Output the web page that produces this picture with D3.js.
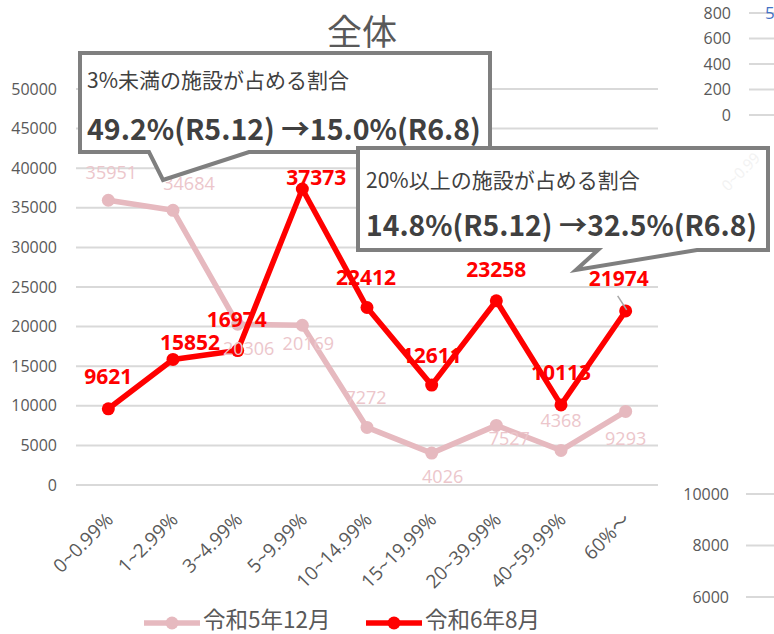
<!DOCTYPE html>
<html><head><meta charset="utf-8">
<script src="https://cdn.jsdelivr.net/npm/d3@7"></script>
<style>body{margin:0;background:#fff}svg{display:block}</style>
</head><body>
<svg id="c" width="774" height="634"></svg>
<script>
const categories = ["0~0.99%","1~2.99%","3~4.99%","5~9.99%","10~14.99%","15~19.99%","20~39.99%","40~59.99%","60%～"];
const seriesNames = ["令和5年12月","令和6年8月"];
const valuesR5_12 = [35951,34684,20306,20169,7272,4026,7527,4368,9293];
const valuesR6_8 = [9621,15852,16974,37373,22412,12611,23258,10113,21974];
const yTicks = [0,5000,10000,15000,20000,25000,30000,35000,40000,45000,50000];
const title = "全体";
const callout1Lines = ["3%未満の施設が占める割合","49.2%(R5.12) →15.0%(R6.8)"];
const callout2Lines = ["20%以上の施設が占める割合","14.8%(R5.12) →32.5%(R6.8)"];
const sideTicksTop = [0,200,400,600,800];
const sideTicksBottom = [6000,8000,10000];

// label offsets (label centre relative to its point) — layout only
const labelOffR5 = [[3,-28],[16,-27],[11,24],[6,18],[-1,-30],[11,23],[13,13],[0,-30],[0,27]];
const labelOffR6 = [[0,-32],[17,-17],[-1,-31],[14,-12],[-1,-30],[0,-30],[0,-31],[0,-32],[-7,-33]];

const svg = d3.select("#c");
const font = "'Noto Sans CJK JP','Noto Sans',sans-serif";
const numFont = "'Open Sans','Noto Sans CJK JP',sans-serif";
const x = d3.scaleBand().domain(categories).range([76,658]);
const y = d3.scaleLinear().domain([0,50000]).range([485,89]);
const cx = d => x(d) + x.bandwidth()/2;

// title
svg.append("text").attr("x",362).attr("y",45).attr("text-anchor","middle")
  .attr("font-family",font).attr("font-size",35).attr("fill","#595959").text(title);

// grid
svg.append("g").selectAll("line").data(yTicks).join("line")
  .attr("x1",76).attr("x2",658).attr("y1",d=>y(d)).attr("y2",d=>y(d))
  .attr("stroke","#d9d9d9").attr("stroke-width",2);

// y axis labels
const yAxis = svg.append("g").attr("transform","translate(64,0)")
  .call(d3.axisLeft(y).tickValues(yTicks).tickSize(0).tickPadding(7).tickFormat(d3.format("d")));
yAxis.select(".domain").remove();
yAxis.selectAll("text").attr("font-family",numFont).attr("font-size",16).attr("fill","#595959");

// x axis labels
const xAxis = svg.append("g").attr("transform","translate(0,485)")
  .call(d3.axisBottom(x).tickSize(0).tickPadding(0));
xAxis.select(".domain").remove();
xAxis.selectAll("text").attr("font-family",numFont).attr("font-size",19).attr("fill","#595959")
  .attr("text-anchor","end").attr("dy",0).attr("y",0)
  .attr("transform","translate(6,36) rotate(-45)");

// lines
const line = d3.line().x((d,i)=>cx(categories[i])).y(d=>y(d));
const colors = ["#e6b9bf","#ff0000"];
[valuesR5_12, valuesR6_8].forEach((vals,k)=>{
  svg.append("path").datum(vals).attr("d",line).attr("fill","none")
    .attr("stroke",colors[k]).attr("stroke-width",5.5).attr("stroke-linejoin","round");
  svg.append("g").selectAll("circle").data(vals).join("circle")
    .attr("cx",(d,i)=>cx(categories[i])).attr("cy",d=>y(d)).attr("r",6.5).attr("fill",colors[k]);
});

// small leader line near last red point
svg.append("line").attr("x1",cx(categories[8])-8).attr("y1",y(valuesR6_8[8])-15)
  .attr("x2",cx(categories[8])+1).attr("y2",y(valuesR6_8[8])-1)
  .attr("stroke","#a6a6a6").attr("stroke-width",1.5);

// labels
const s5 = 18, s6 = 21;
svg.append("g").selectAll("text").data(valuesR5_12).join("text")
  .attr("x",(d,i)=>cx(categories[i])+labelOffR5[i][0]).attr("y",(d,i)=>y(d)+labelOffR5[i][1]+0.36*s5)
  .attr("text-anchor","middle").attr("font-family",numFont).attr("font-size",s5)
  .attr("fill","#ecc6cb").text(d=>d);
svg.append("g").selectAll("text").data(valuesR6_8).join("text")
  .attr("x",(d,i)=>cx(categories[i])+labelOffR6[i][0]).attr("y",(d,i)=>y(d)+labelOffR6[i][1]+0.36*s6)
  .attr("text-anchor","middle").attr("font-family",numFont).attr("font-size",s6).attr("font-weight","bold")
  .attr("fill","#ff0000").text(d=>d);

// callouts
function callout(pts, lines, tx, ty1, ty2, s1, s2){
  svg.append("path").attr("d","M"+pts.map(p=>p.join(",")).join("L")+"Z")
    .attr("fill","#fff").attr("stroke","#7f7f7f").attr("stroke-width",4).attr("stroke-linejoin","miter");
  svg.append("text").attr("x",tx).attr("y",ty1).attr("font-family",font).attr("font-size",s1)
    .attr("fill","#404040").text(lines[0]);
  svg.append("text").attr("x",tx).attr("y",ty2).attr("font-family",font).attr("font-size",s2)
    .attr("font-weight","bold").attr("fill","#404040").text(lines[1]);
}
callout([[80,53],[490,53],[490,152],[249,152],[163,180],[149,152],[80,152]], callout1Lines, 87, 88, 140, 21, 28.5);
callout([[358,148],[768,148],[768,250],[697,250],[576,270],[598,250],[358,250]], callout2Lines, 366, 188, 236, 21, 28.3);

// side fragments (neighbouring charts)
const sideTop = d3.scaleLinear().domain([0,800]).range([115,13]);
const gT = svg.append("g");
gT.selectAll("text").data(sideTicksTop).join("text").attr("x",731).attr("y",d=>sideTop(d)+5.5)
  .attr("text-anchor","end").attr("font-family",numFont).attr("font-size",16).attr("fill","#595959").text(d=>d);
gT.selectAll("line").data(sideTicksTop).join("line").attr("x1",749).attr("x2",774)
  .attr("y1",d=>sideTop(d)).attr("y2",d=>sideTop(d)).attr("stroke","#d9d9d9").attr("stroke-width",2);
svg.append("text").attr("x",765).attr("y",19).attr("font-family",numFont).attr("font-size",17).attr("fill","#4472c4").text("5");
svg.append("text").attr("x",728).attr("y",192).attr("font-family",numFont).attr("font-size",15).attr("fill","#f2f2f2")
  .attr("transform","rotate(-45,728,192)").text("0~0.99");

const sideBot = d3.scaleLinear().domain([6000,10000]).range([597,494]);
const gB = svg.append("g");
gB.selectAll("text").data(sideTicksBottom).join("text").attr("x",729).attr("y",d=>sideBot(d)+5.5)
  .attr("text-anchor","end").attr("font-family",numFont).attr("font-size",16).attr("fill","#595959").text(d=>d);
gB.selectAll("line").data(sideTicksBottom).join("line").attr("x1",746).attr("x2",774)
  .attr("y1",d=>sideBot(d)).attr("y2",d=>sideBot(d)).attr("stroke","#d9d9d9").attr("stroke-width",2);

// legend
const lg = svg.append("g");
[[144,seriesNames[0]],[366,seriesNames[1]]].forEach(([lx,name],k)=>{
  lg.append("line").attr("x1",lx).attr("x2",lx+56).attr("y1",623).attr("y2",623)
    .attr("stroke",colors[k]).attr("stroke-width",5.5);
  lg.append("circle").attr("cx",lx+28).attr("cy",623).attr("r",6.5).attr("fill",colors[k]);
  lg.append("text").attr("x",lx+59).attr("y",628).attr("font-family",font).attr("font-size",22.5)
    .attr("fill","#595959").text(name);
});
</script>
</body></html>
